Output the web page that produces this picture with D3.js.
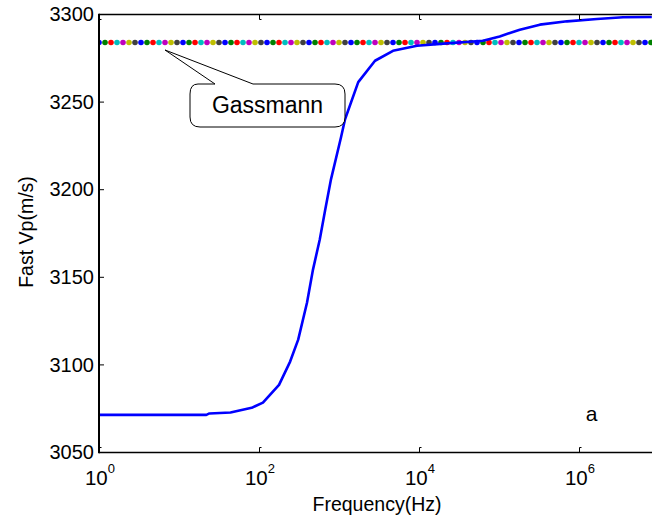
<!DOCTYPE html>
<html>
<head>
<meta charset="utf-8">
<script src="https://cdn.jsdelivr.net/npm/d3@7"></script>
<style>
  html, body { margin: 0; padding: 0; background: #fff; }
  svg { display: block; font-family: "Liberation Sans", Arial, sans-serif; }
</style>
</head>
<body>
<svg id="chart" width="652" height="518"></svg>
<script>
// Fast P-wave velocity versus frequency (model curve)
const freqHz = [1, 22, 24, 44, 81, 112, 178, 245, 309, 398, 473, 575, 668, 794,
  1060, 1190, 1740, 2820, 4730, 9440, 16800, 63000, 102000, 182000, 324000,
  708000, 1680000, 3550000, 8130000];
const fastVp = [3071.5, 3071.5, 3072.3, 3072.8, 3075.5, 3078.5, 3088.6, 3101.9,
  3114.4, 3135.5, 3154.4, 3171.6, 3187.8, 3205.9, 3229.9, 3240.2, 3261.4,
  3273.6, 3279.3, 3282.2, 3283.1, 3285.0, 3287.5, 3291.3, 3294.2, 3296.1,
  3297.4, 3298.4, 3298.6];

// Gassmann (low-frequency limit) velocity, sampled on a log grid of exponents
const gassmannVp = 3284;
const gassmannExp = d3.range(0, 7.0, 0.075);
const markerColors = ["#0000ff", "#008000", "#ff0000", "#00bfbf", "#bf00bf", "#bfbf00", "#404040"];

const xTickExp = [0, 2, 4, 6];
const yTicks = [3050, 3100, 3150, 3200, 3250, 3300];

const svg = d3.select("#chart");
const plotLeft = 99, plotTop = 14.5, plotBottom = 452.5;
const x = d3.scaleLog().domain([1, 1e7]).range([plotLeft, plotLeft + 7 * 80]);
const y = d3.scaleLinear().domain([3050, 3300]).range([plotBottom, plotTop]);

svg.append("defs").append("clipPath").attr("id", "plot")
  .append("rect").attr("x", plotLeft).attr("y", plotTop).attr("width", 600).attr("height", plotBottom - plotTop);

const plot = svg.append("g").attr("clip-path", "url(#plot)");

// Gassmann markers
plot.selectAll("circle.g")
  .data(gassmannExp)
  .join("circle")
  .attr("class", "g")
  .attr("cx", e => x(Math.pow(10, e)))
  .attr("cy", y(gassmannVp))
  .attr("r", 2.8)
  .attr("fill", (d, i) => markerColors[i % markerColors.length]);

// Velocity dispersion curve
plot.append("path")
  .datum(freqHz.map((f, i) => [f, fastVp[i]]))
  .attr("fill", "none")
  .attr("stroke", "#0000ff")
  .attr("stroke-width", 2.6)
  .attr("stroke-linejoin", "round")
  .attr("d", d3.line().x(d => x(d[0])).y(d => y(d[1])));

// Axes frame (left, top, bottom)
const frame = svg.append("g").attr("stroke", "#000").attr("fill", "none");
frame.append("line").attr("x1", plotLeft).attr("x2", 652).attr("y1", plotTop).attr("y2", plotTop).attr("stroke-width", 1.4);
frame.append("line").attr("x1", plotLeft).attr("x2", 652).attr("y1", plotBottom).attr("y2", plotBottom).attr("stroke-width", 1.4);
frame.append("line").attr("x1", plotLeft).attr("x2", plotLeft).attr("y1", plotTop - 0.7).attr("y2", plotBottom + 0.7).attr("stroke-width", 2);

// X ticks (inward, bottom and top) and labels
const xt = svg.append("g");
xTickExp.forEach(e => {
  const px = Math.round(x(Math.pow(10, e))) + 0.5;
  xt.append("path").attr("fill", "none").attr("stroke", "#000").attr("stroke-width", 1)
    .attr("d", `M${px},${plotBottom} V${plotBottom - 5} h2`);
  xt.append("path").attr("fill", "none").attr("stroke", "#000").attr("stroke-width", 1)
    .attr("d", `M${px},${plotTop} V${plotTop + 5} h2`);
  const t = xt.append("text")
    .attr("x", px + 0.5).attr("y", 485)
    .attr("text-anchor", "middle")
    .attr("font-size", 20.5).attr("fill", "#000");
  t.append("tspan").text("10");
  t.append("tspan").attr("dy", -12).attr("font-size", 13).text(e);
});

// Y ticks and labels
const yt = svg.append("g");
yTicks.forEach(v => {
  const py = y(v);
  yt.append("line").attr("x1", plotLeft).attr("x2", plotLeft + 5).attr("y1", py).attr("y2", py)
    .attr("stroke", "#000").attr("stroke-width", 1);
  yt.append("text")
    .attr("x", 94).attr("y", py + 1.5)
    .attr("dominant-baseline", "middle")
    .attr("text-anchor", "end")
    .attr("font-size", 20).attr("fill", "#000")
    .text(v);
});

// Axis titles
svg.append("text").attr("x", 377).attr("y", 510.5).attr("text-anchor", "middle")
  .attr("font-size", 19.5).attr("fill", "#000").text("Frequency(Hz)");
svg.append("text").attr("transform", "translate(33,232) rotate(-90)")
  .attr("text-anchor", "middle").attr("font-size", 19.5).attr("fill", "#000").text("Fast Vp(m/s)");

// Callout for the Gassmann line
svg.append("path")
  .attr("fill", "#fff").attr("stroke", "#000").attr("stroke-width", 1)
  .attr("d", "M198,84 L215,84 L165,50 L253,84 L335,84 Q345,84 345,94 L345,117 Q345,127 335,127 L200,127 Q190,127 190,117 L190,94 Q190,84 198,84 Z");
svg.append("text").attr("x", 267.5).attr("y", 113).attr("text-anchor", "middle")
  .attr("font-size", 23).attr("fill", "#000").text("Gassmann");

// Panel letter
svg.append("text").attr("x", 591.5).attr("y", 421).attr("text-anchor", "middle")
  .attr("font-size", 21).attr("fill", "#000").text("a");
</script>
</body>
</html>
